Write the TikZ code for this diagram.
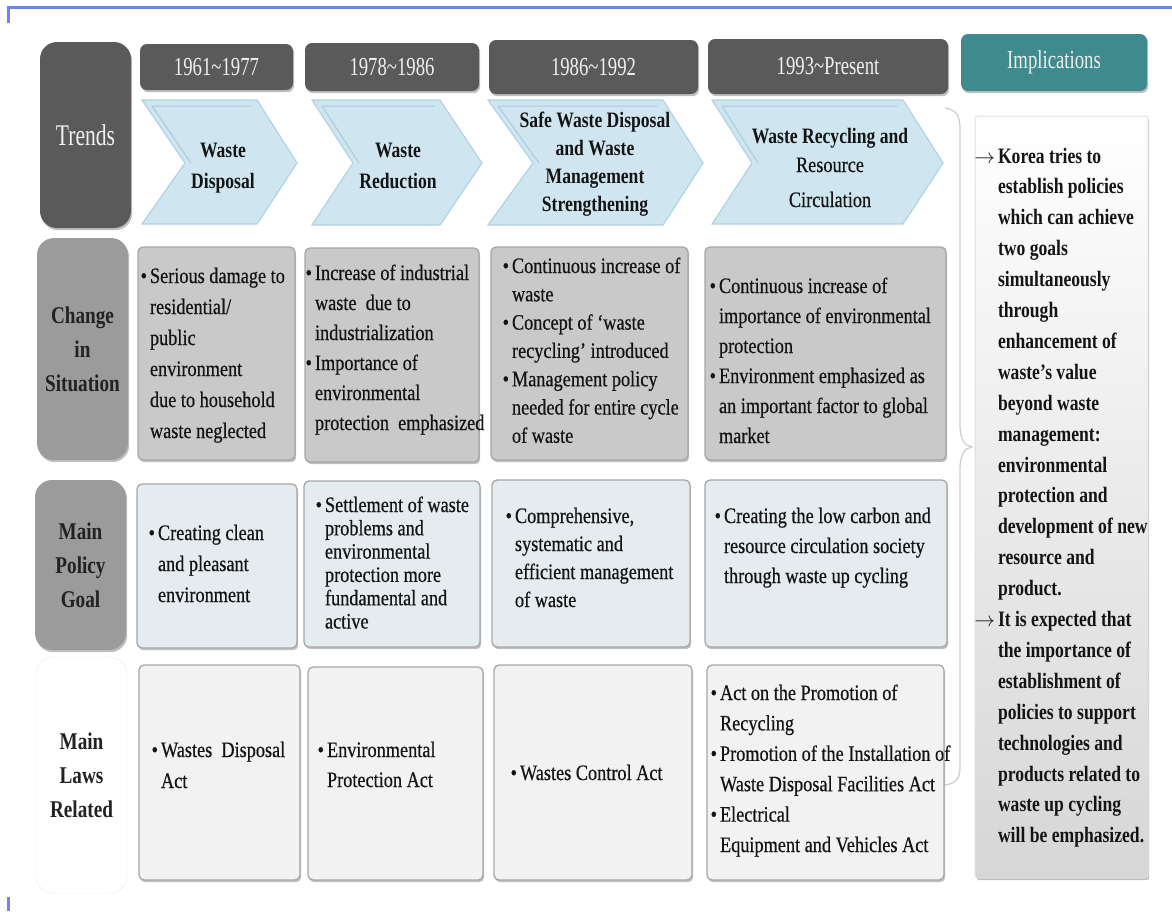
\documentclass[tikz,border=0pt]{standalone}
\usepackage{fontspec}
\setmainfont{Liberation Serif}
\newfontfamily\rg[FakeStretch=0.83,FakeBold=0.5]{Liberation Serif}
\newfontfamily\bd[FakeStretch=0.8]{Liberation Serif}
\newfontfamily\hd[FakeStretch=0.72]{Liberation Serif}
\usetikzlibrary{shadows}
\definecolor{framec}{HTML}{6C86E8}
\definecolor{hdgray}{HTML}{5A5A5A}
\definecolor{labgray}{HTML}{9B9B9B}
\definecolor{sitfill}{HTML}{C9C9C9}
\definecolor{goalfill}{HTML}{E4ECEF}
\definecolor{lawfill}{HTML}{F2F2F2}
\definecolor{cellline}{HTML}{A6A6A6}
\definecolor{chevfill}{HTML}{CFE6F1}
\definecolor{chevline}{HTML}{B0D3E2}
\definecolor{chevdark}{HTML}{A8CBDA}
\definecolor{tealc}{HTML}{3E8A8C}
\definecolor{txtc}{HTML}{141414}
\definecolor{labtxt}{HTML}{222222}
\newcommand\bul{\llap{\textbullet\hspace{3pt}}}
\newcommand\arr{\llap{$\rightarrow$\hspace{3pt}}}
\newcommand\fs{\rule{0pt}{17pt}}
\newcommand\tl{\textasciitilde}
% box: style, name, x1, y1, x2, y2, text
\newcommand\bx[7]{\node[#1, minimum width={#5-#3}, minimum height={#6-#4}] (#2) at ({(#3+#5)/2},{(#4+#6)/2}) {#7};}
% text: name, x, first baseline, line skip, text
\newcommand\tx[5]{\node[txt, font=\rg\fontsize{22}{#4}\selectfont] (#1) at (#2,{#3-17}) {\fs#5};}
\begin{document}
\begin{tikzpicture}[x=1pt,y=-1pt,
  sh/.style={drop shadow={shadow xshift=1.2pt,shadow yshift=-2.2pt,opacity=0.25,fill=black}},
  hdr/.style={fill=hdgray, rounded corners=7pt, inner sep=0pt, outer sep=0pt, sh, text=white!94!black, font=\hd\fontsize{26}{30}\selectfont},
  lab/.style={rounded corners=17pt, inner sep=0pt, outer sep=0pt, align=center, text=labtxt, font=\bd\bfseries\fontsize{24}{34}\selectfont},
  cell/.style={draw=cellline, line width=1.3pt, rounded corners=5pt, inner sep=0pt, outer sep=0pt, sh},
  chev/.style={fill=chevfill, draw=chevline, line width=1.2pt, line join=miter},
  bevel/.style={draw=chevdark, line width=1pt, line cap=round},
  ctxt/.style={anchor=north, inner sep=0pt, outer sep=0pt, align=center, text=txtc, font=\bd\bfseries\fontsize{22}{31}\selectfont},
  txt/.style={anchor=north west, inner sep=0pt, outer sep=0pt, align=left, text=txtc},
  impl/.style={top color=white, bottom color=gray!32, draw=gray!25, line width=1pt, rounded corners=3pt, inner sep=0pt, outer sep=0pt, sh},
  bracec/.style={draw=gray!38, line width=1.3pt}
]
\useasboundingbox (0,0) rectangle (1172,911);
% frame
\draw[framec, line width=3pt] (8,23) -- (8,7) -- (1172,7);
\draw[framec, line width=3pt] (8,897) -- (8,911);

% row labels
\bx{lab, fill=hdgray, sh, text=white!94!black, font=\hd\fontsize{30}{34}\selectfont}{lTrend}{40}{42}{131}{228}{Trends}
\bx{lab, fill=labgray, sh}{lChange}{37}{238}{128}{460}{Change\\in\\Situation}
\bx{lab, fill=labgray, sh}{lGoal}{35}{480}{126}{650}{Main\\Policy\\Goal}
\bx{lab, fill=white, draw=gray!18}{lLaw}{36}{657}{127}{893}{Main\\Laws\\Related}

% period headers
\bx{hdr}{h1}{140}{44}{293}{90}{1961\tl1977}
\bx{hdr}{h2}{305}{43}{479}{91}{1978\tl1986}
\bx{hdr}{h3}{489}{40}{698}{94}{1986\tl1992}
\bx{hdr}{h4}{708}{39}{948}{94}{1993\tl{}Present}
\bx{hdr, fill=tealc}{h5}{961}{34}{1147}{91}{Implications}

% chevrons
\filldraw[chev] (142,100) -- (257,100) -- (297,163) -- (257,224) -- (142,224) -- (185,163) -- cycle;
\draw[bevel] (152,106) -- (251,106) (152,106) -- (191,163);
\filldraw[chev] (312,100) -- (440,100) -- (482,163) -- (440,225) -- (312,225) -- (353,163) -- cycle;
\draw[bevel] (322,106) -- (434,106) (322,106) -- (359,163);
\filldraw[chev] (488,100) -- (663,100) -- (703,163) -- (663,225) -- (488,225) -- (533,163) -- cycle;
\draw[bevel] (498,106) -- (657,106) (498,106) -- (539,163);
\filldraw[chev] (712,100) -- (903,100) -- (943,163) -- (903,224) -- (712,224) -- (752,163) -- cycle;
\draw[bevel] (722,106) -- (897,106) (722,106) -- (758,163);
\node[ctxt] (c1) at (223,140) {\fs Waste\\Disposal};
\node[ctxt] (c2) at (398,140) {\fs Waste\\Reduction};
\node[ctxt, font=\bd\bfseries\fontsize{22}{28.3}\selectfont] (c3) at (595,110) {\fs Safe Waste Disposal\\and Waste\\Management\\Strengthening};
\node[ctxt, font=\bd\bfseries\fontsize{22}{29}\selectfont] (c4) at (830,126) {\fs Waste Recycling and\\{\rg\mdseries Resource}\\[6pt]{\rg\mdseries Circulation}};

% brace
\draw[bracec] (945,108) .. controls (958,110) and (960,118) .. (960,130) -- (960,425) .. controls (960,440) and (965,446) .. (972,447) .. controls (965,448) and (960,454) .. (960,469) -- (960,765) .. controls (960,777) and (958,783) .. (945,785);

% change in situation
\bx{cell, fill=sitfill}{s1}{138}{247}{295}{460}{}
\bx{cell, fill=sitfill}{s2}{305}{248}{479}{462}{}
\bx{cell, fill=sitfill}{s3}{491}{247}{688}{460}{}
\bx{cell, fill=sitfill}{s4}{705}{247}{946}{460}{}
% main policy goal
\bx{cell, fill=goalfill}{g1}{137}{484}{297}{648}{}
\bx{cell, fill=goalfill}{g2}{304}{481}{480}{647}{}
\bx{cell, fill=goalfill}{g3}{492}{480}{690}{647}{}
\bx{cell, fill=goalfill}{g4}{705}{480}{947}{647}{}
% main laws
\bx{cell, fill=lawfill}{w1}{139}{665}{300}{880}{}
\bx{cell, fill=lawfill}{w2}{308}{667}{483}{880}{}
\bx{cell, fill=lawfill}{w3}{494}{665}{692}{880}{}
\bx{cell, fill=lawfill}{w4}{707}{665}{944}{880}{}

% implications
\bx{impl}{imp}{975}{116}{1148}{878}{}

% texts
\tx{st1}{150}{283}{31}{\bul Serious damage to\\residential/\\public\\environment\\due to household\\waste neglected}
\tx{st2}{315}{280}{30}{\bul Increase of industrial\\waste\ \ due to\\industrialization\\\bul Importance of\\environmental\\protection\ \ emphasized}
\tx{st3}{512}{273}{28.3}{\bul Continuous increase of\\waste\\\bul Concept of ‘waste\\recycling’ introduced\\\bul Management policy\\needed for entire cycle\\of waste}
\tx{st4}{719}{293}{30}{\bul Continuous increase of\\importance of environmental\\protection\\\bul Environment emphasized as\\an important factor to global\\market}
\tx{gt1}{158}{540}{31}{\bul Creating clean\\and pleasant\\environment}
\tx{gt2}{325}{512}{23.3}{\bul Settlement of waste\\problems and\\environmental\\protection more\\fundamental and\\active}
\tx{gt3}{515}{523}{28}{\bul Comprehensive,\\systematic and\\efficient management\\of waste}
\tx{gt4}{724}{523}{30}{\bul Creating the low carbon and\\resource circulation society\\through waste up cycling}
\tx{lt1}{161}{757}{31}{\bul Wastes\ \ Disposal\\Act}
\tx{lt2}{327}{757}{30}{\bul Environmental\\Protection Act}
\tx{lt3}{520}{780}{30}{\bul Wastes Control Act}
\tx{lt4}{720}{700}{30.4}{\bul Act on the Promotion of\\Recycling\\\bul Promotion of the Installation of\\Waste Disposal Facilities Act\\\bul Electrical\\Equipment and Vehicles Act}
\node[txt, font=\bd\bfseries\fontsize{22}{30.9}\selectfont] (it) at (998,146) {\fs\arr Korea tries to\\establish policies\\which can achieve\\two goals\\simultaneously\\through\\enhancement of\\waste’s value\\beyond waste\\management:\\environmental\\protection and\\development of new\\resource and\\product.\\\arr It is expected that\\the importance of\\establishment of\\policies to support\\technologies and\\products related to\\waste up cycling\\will be emphasized.};
\end{tikzpicture}
\end{document}
